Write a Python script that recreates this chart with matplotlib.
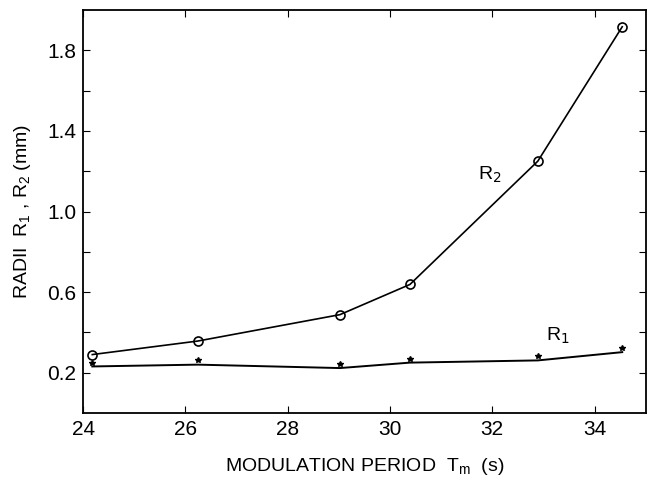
import numpy as np
import matplotlib
matplotlib.use('Agg')
import matplotlib.pyplot as plt

plt.rcParams['font.family'] = ['Liberation Sans', 'DejaVu Sans']

# Periodo de modulacion (s)
period = [24.18, 26.24, 29.02, 30.39, 32.89, 34.54]
# Radio R2 (circulos)
r2 = [0.29, 0.357, 0.488, 0.638, 1.25, 1.917]
# Radio R1 medido (estrellas)
r1_pts = [0.248, 0.261, 0.245, 0.269, 0.281, 0.324]
# Curva suavizada de R1
r1_fit = [0.231, 0.240, 0.223, 0.250, 0.261, 0.302]

ytick_vals = [0.2, 0.4, 0.6, 0.8, 1.0, 1.2, 1.4, 1.6, 1.8]
ytick_text = ['0.2', '', '0.6', '', '1.0', '', '1.4', '', '1.8']
xtick_vals = [24, 26, 28, 30, 32, 34]

fig = plt.figure(figsize=(6.49, 4.78), dpi=100)
ax = fig.add_axes([0.128, 0.136, 0.867, 0.843])

ax.plot(period, r2, color='black', lw=1.2, marker='o', ms=6.5,
        mfc='none', mec='black', mew=1.2)
ax.plot(period, r1_fit, color='black', lw=1.4)
ax.plot(period, r1_pts, ls='none', marker='*', ms=4, color='black')

ax.text(31.72, 1.16, 'R$_2$', fontsize=14)
ax.text(33.05, 0.36, 'R$_1$', fontsize=14)

ax.set_xlim(24, 35)
ax.set_ylim(0, 2.0)
ax.set_xticks(xtick_vals)
ax.set_yticks(ytick_vals)
ax.set_yticklabels(ytick_text)
ax.tick_params(direction='in', top=True, right=True, length=5,
               labelsize=15, pad=5)
for s in ax.spines.values():
    s.set_linewidth(1.3)

ax.set_xlabel('MODULATION PERIOD  T$_\\mathregular{m}$  (s)', fontsize=14, labelpad=12)
ax.set_ylabel('RADII  R$_\\mathregular{1}$ , R$_\\mathregular{2}$ (mm)', fontsize=14, labelpad=10)

fig.savefig('out.png', dpi=100)
